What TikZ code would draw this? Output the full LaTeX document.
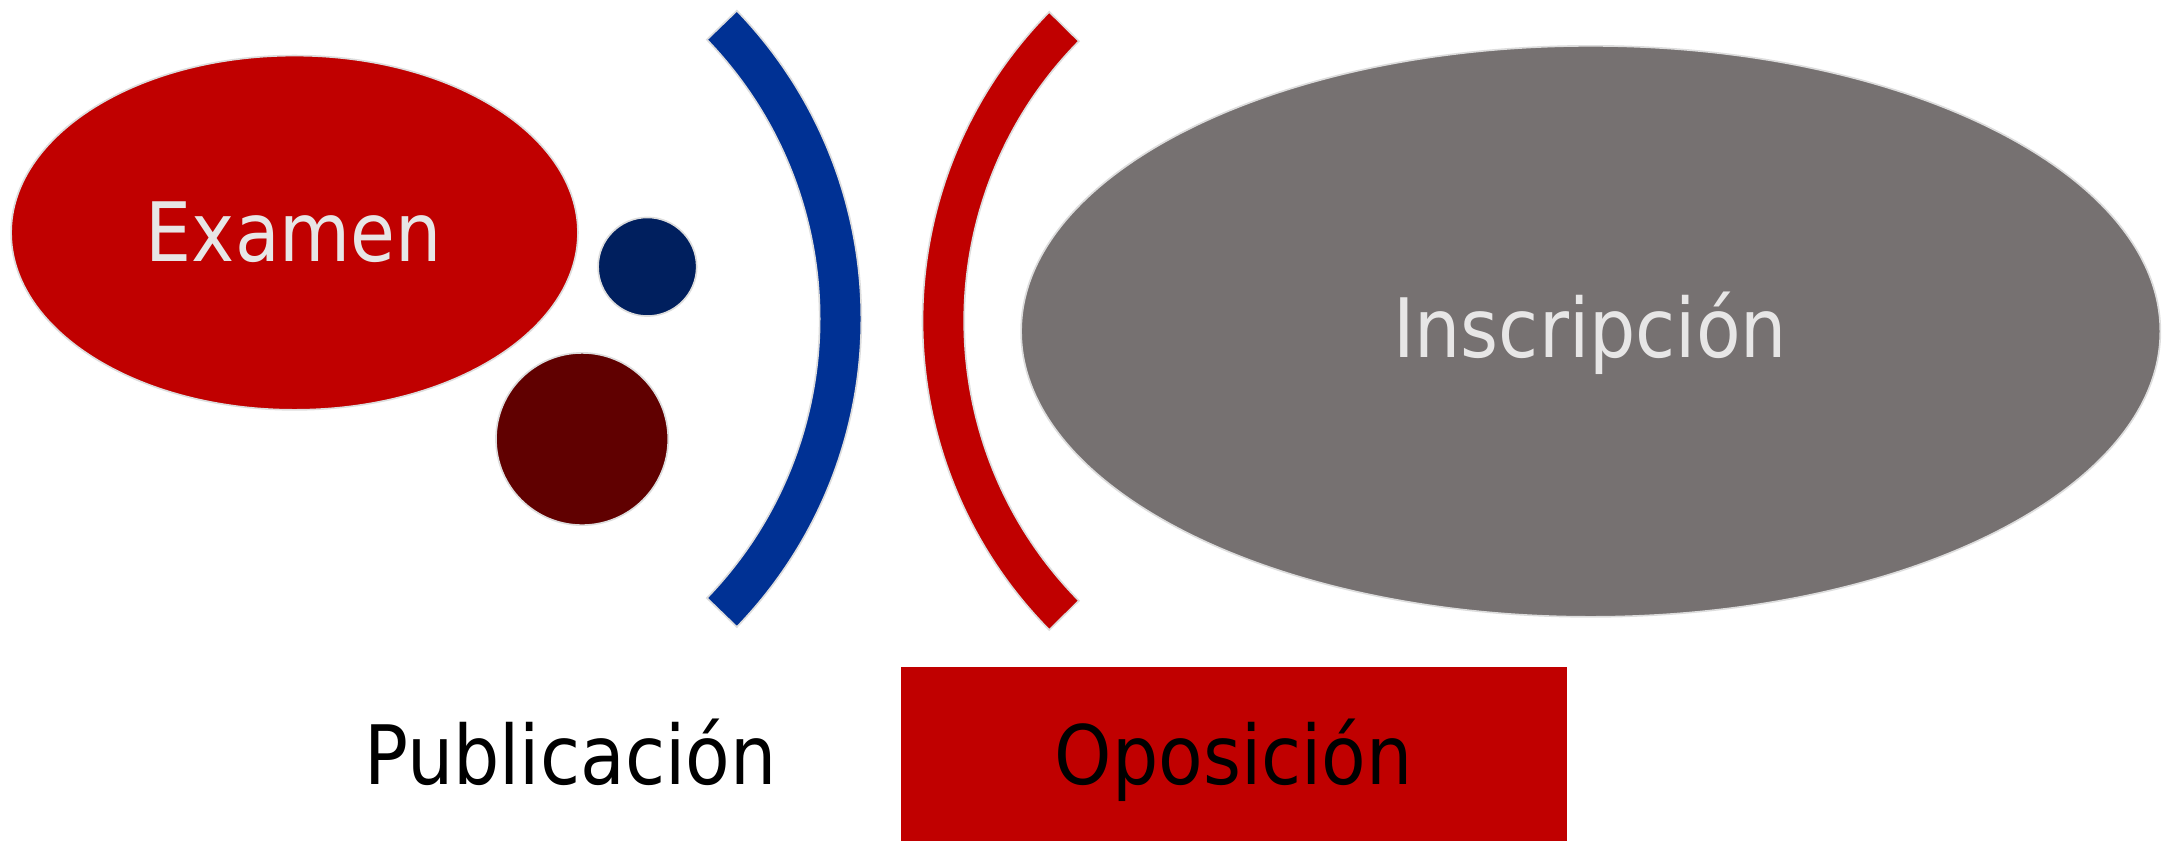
\documentclass[tikz,border=0pt]{standalone}
\usepackage{fontspec}
\newfontfamily\dvs[FakeStretch=0.89]{DejaVu Sans}
\usetikzlibrary{shapes.geometric,calc}
\definecolor{mred}{HTML}{C00000}
\definecolor{mblue}{HTML}{003194}
\definecolor{mnavy}{HTML}{001F5E}
\definecolor{mdark}{HTML}{600000}
\definecolor{mgray}{HTML}{767171}
\definecolor{mtext}{HTML}{E7E6E6}
\definecolor{edge}{HTML}{DDDDDD}
\begin{document}
\begin{tikzpicture}[x=1pt,y=-1pt,
  blob/.style={ellipse, draw=edge, line width=1.2pt, inner sep=0pt},
  dot/.style={circle, draw=edge, line width=1.2pt, inner sep=0pt},
  lbl/.style={font=\dvs\fontsize{59}{70}\selectfont, anchor=base, inner sep=0pt},
  band/.style={draw=edge, line width=1.2pt}]
\useasboundingbox (0,0) rectangle (1567,605.3);
% ellipses
\node[blob, fill=mred, minimum width=408pt, minimum height=255pt] (examen) at (212,167.5) {};
\node[blob, fill=mgray, minimum width=820pt, minimum height=411pt] (inscr) at (1145,238.5) {};
% circles
\node[dot, fill=mnavy, minimum size=71pt] (navy) at (466,192) {};
\node[dot, fill=mdark, minimum size=124pt] (dark) at (419,316) {};
% bands
\coordinate (cb) at (300.7,229.5);
\coordinate (cr) at (980.8,231);
\path[band, fill=mblue] ($(cb)+(44:319.3)$) arc[start angle=44, end angle=-44, radius=319.3]
  -- ($(cb)+(-44:289.3)$) arc[start angle=-44, end angle=44, radius=289.3] -- cycle;
\path[band, fill=mred] ($(cr)+(135.4:316.8)$) arc[start angle=135.4, end angle=224.6, radius=316.8]
  -- ($(cr)+(224.6:286.8)$) arc[start angle=224.6, end angle=135.4, radius=286.8] -- cycle;
% box
\node[rectangle, fill=mred, inner sep=0pt, minimum width=480pt, minimum height=140pt, anchor=north west] (opbox) at (648,480) {};
% texts
\node[lbl, text=mtext] (texam) at (211.5,188) {Examen};
\node[lbl, text=mtext] (tinscr) at (1144.5,257) {Inscripción};
\node[lbl, text=black] (tpub) at (410.5,565) {Publicación};
\node[lbl, text=black] (topo) at (888,565) {Oposición};
\end{tikzpicture}
\end{document}
